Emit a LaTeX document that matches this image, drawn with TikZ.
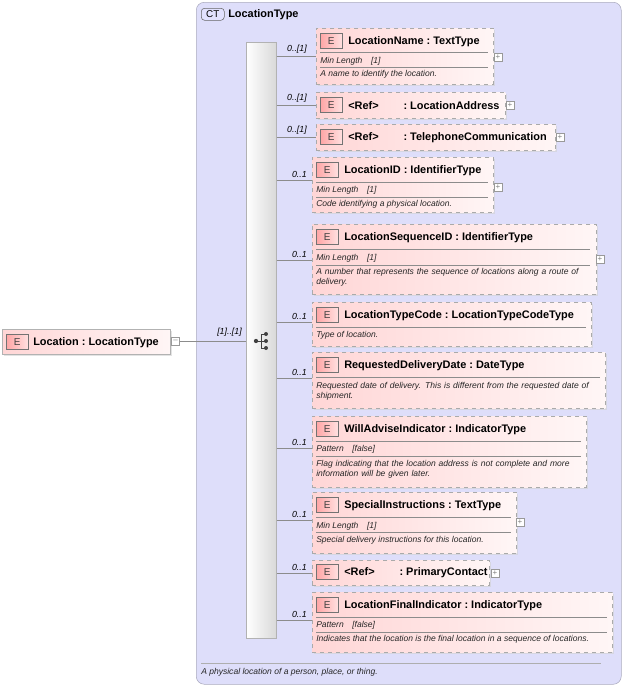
\documentclass[tikz,border=0pt]{standalone}
\usepackage{fontspec}
\setmainfont{Liberation Sans}
\usetikzlibrary{calc,shadows}
\definecolor{ctfill}{RGB}{222,222,250}
\definecolor{ctborder}{RGB}{170,170,190}
\definecolor{pinkA}{RGB}{255,214,214}
\definecolor{pinkB}{RGB}{255,246,246}
\definecolor{dash}{RGB}{170,170,170}
\definecolor{ln}{RGB}{140,140,140}
\tikzset{x=0.75pt,y=-0.75pt,
 ebox/.style={draw=dash,dashed,left color=pinkA,right color=pinkB,anchor=north west,inner sep=0pt,drop shadow={shadow xshift=1.5pt,shadow yshift=-1.5pt,fill=black!18,opacity=.6}},
 sbox/.style={draw=black!30,left color=pinkA,right color=pinkB,anchor=north west,inner sep=0pt,drop shadow={shadow xshift=1.5pt,shadow yshift=-1.5pt,fill=black!18,opacity=.6}},
 eicon/.style={draw=black!55,left color=red!35,right color=red!12,minimum width=16.5pt,minimum height=11pt,inner sep=0pt,font=\fontsize{7.5}{7.5}\selectfont,text=black!75,anchor=north west},
 title/.style={font=\bfseries\fontsize{8.2}{9}\selectfont,anchor=west,inner sep=0pt},
 small/.style={font=\itshape\fontsize{6.4}{7.6}\selectfont,anchor=west,inner sep=0pt,text=black!85},
 mult/.style={font=\itshape\fontsize{6.6}{7}\selectfont,anchor=south east,inner sep=0pt},
 plus/.style={draw=black!40,fill=white,minimum size=6pt,inner sep=0pt,font=\fontsize{6}{6}\selectfont,text=black!50},
 conn/.style={draw=ln,line width=0.5pt}}
\newcommand\ebx[6][ebox]{\node[#1,minimum width=#5*0.75pt,minimum height=#6*0.75pt] (#2) at (#3,#4) {};}
\newcommand\ehead[4]{\node[eicon] (#1i) at (#2+4,#3+5) {E}; \node[title] (#1t) at (#2+32,#3+13.5) {#4};}
\newcommand\hl[3]{\draw[ln] (#1,#3) -- (#2,#3);}
\newcommand\cl{\ :\ }
\begin{document}
\begin{tikzpicture}
\useasboundingbox (0,0) rectangle (625,687);
\node[draw=ctborder,fill=ctfill,rounded corners=6pt,minimum width=425*0.75pt,minimum height=682*0.75pt,anchor=north west,inner sep=0pt] (ct) at (196,2) {};
\node[draw=black!60,fill=ctfill!70!blue!30,rounded corners=2.5pt,minimum width=23*0.75pt,minimum height=12*0.75pt,inner sep=0pt,font=\fontsize{7.4}{7}\selectfont,anchor=north west] (cti) at (201,8) {CT};
\node[title] (ctt) at (228,15) {LocationType};
\draw[ln!70] (201,663) -- (601,663);
\node[small] (ctd) at (201,672) {A physical location of a person, place, or thing.};
\node[draw=black!30,left color=white,right color=black!15,minimum width=30*0.75pt,minimum height=596*0.75pt,anchor=north west,inner sep=0pt] (seq) at (246,42) {};
\fill[black!75] (256,341) circle (1.6pt);
\draw[black!75,line width=0.6pt] (256,341) -- (261,341) (261,334) -- (261,348) (261,334) -- (266,334) (261,341) -- (266,341) (261,348) -- (266,348);
\foreach \yy in {334,341,348} \fill[black!75] (266,\yy) circle (1.5pt);
\node[sbox,minimum width=168*0.75pt,minimum height=25*0.75pt] (loc) at (2,329) {};
\node[eicon] (loci) at (6,334) {E};
\node[title] (loct) at (33,342.5) {Location\cl LocationType};
\node[plus] (locm) at (175.5,341.5) {--};
\draw[conn] (locm) -- (seq.west |- locm);
\node[mult] at (242,337) {[1]..[1]};
% 1
\ebx{b1}{316}{28}{177}{56}
\ehead{b1}{316}{28}{LocationName\cl TextType}
\hl{320}{488}{52}\node[small] at (320,61.5) {Min Length\quad [1]};
\hl{320}{488}{67}\node[small] at (320,74.5) {A name to identify the location.};
\node[plus] at (498,57) {+};
% 2
\ebx{b2}{316}{92}{189}{26}
\ehead{b2}{316}{92}{<Ref>\qquad\cl LocationAddress}
\node[plus] at (510,105) {+};
% 3
\ebx{b3}{316}{124}{239}{26}
\ehead{b3}{316}{124}{<Ref>\qquad\cl TelephoneCommunication}
\node[plus] at (560,137) {+};
% 4
\ebx{b4}{312}{157}{181}{55}
\ehead{b4}{312}{157}{LocationID\cl IdentifierType}
\hl{316}{488}{182}\node[small] at (316,190.5) {Min Length\quad [1]};
\hl{316}{488}{197}\node[small] at (316,204.5) {Code identifying a physical location.};
\node[plus] at (498,187) {+};
% 5
\ebx{b5}{312}{224}{284}{70}
\ehead{b5}{312}{224}{LocationSequenceID\cl IdentifierType}
\hl{316}{590}{249}\node[small] at (316,258.5) {Min Length\quad [1]};
\hl{316}{590}{265}\node[small,text width=205pt,align=left] at (316,277) {A number that represents the sequence of locations along a route of delivery.};
\node[plus] at (600,259) {+};
% 6
\ebx{b6}{312}{302}{279}{44}
\ehead{b6}{312}{302}{LocationTypeCode\cl LocationTypeCodeType}
\hl{316}{586}{327}\node[small] at (316,335.5) {Type of location.};
% 7
\ebx{b7}{312}{352}{293}{56}
\ehead{b7}{312}{352}{RequestedDeliveryDate\cl DateType}
\hl{316}{600}{377}\node[small,text width=216pt,align=left] at (316,391) {Requested date of delivery. This is different from the requested date of shipment.};
% 8
\ebx{b8}{312}{416}{274}{71}
\ehead{b8}{312}{416}{WillAdviseIndicator\cl IndicatorType}
\hl{316}{581}{441}\node[small] at (316,449.5) {Pattern\quad [false]};
\hl{316}{581}{456}\node[small,text width=200pt,align=left] at (316,469.5) {Flag indicating that the location address is not complete and more information will be given later.};
% 9
\ebx{b9}{312}{492}{204}{61}
\ehead{b9}{312}{492}{SpecialInstructions\cl TextType}
\hl{316}{511}{517}\node[small] at (316,526.5) {Min Length\quad [1]};
\hl{316}{511}{532}\node[small] at (316,540.5) {Special delivery instructions for this location.};
\node[plus] at (520,522) {+};
% 10
\ebx{b10}{312}{560}{177}{25}
\ehead{b10}{312}{559}{<Ref>\qquad\cl PrimaryContact}
\node[plus] at (495,573) {+};
% 11
\ebx{b11}{312}{592}{300}{60}
\ehead{b11}{312}{592}{LocationFinalIndicator\cl IndicatorType}
\hl{316}{607}{617}\node[small] at (316,625.5) {Pattern\quad [false]};
\hl{316}{607}{632}\node[small] at (316,639.5) {Indicates that the location is the final location in a sequence of locations.};
\foreach \b/\yy/\m in {b1/56/0..[1],b2/105/0..[1],b3/137/0..[1],b4/180/0..1,b5/260/0..1,b6/322/0..1,b7/378/0..1,b8/448/0..1,b9/520/0..1,b10/573/0..1,b11/620/0..1}{
 \draw[conn] (seq.east |- 0,\yy) -- (\b.west |- 0,\yy);
 \node[mult] at (307,\yy-2) {\m};}
\end{tikzpicture}
\end{document}
